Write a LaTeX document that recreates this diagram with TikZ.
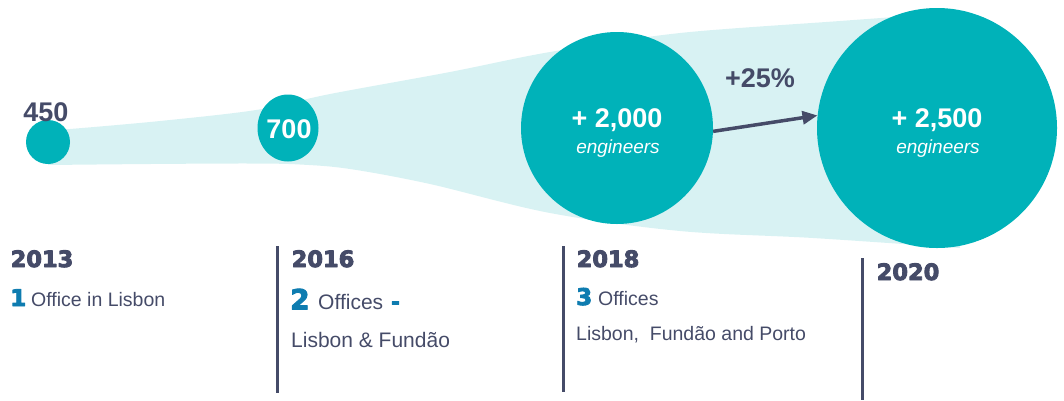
\documentclass[tikz,border=0pt]{standalone}
\usepackage{fontspec}
\setmainfont{Liberation Sans}
\newfontfamily\heavyfont{DejaVu Sans}
\usetikzlibrary{arrows.meta,shapes.geometric}
\definecolor{teal}{RGB}{0,178,185}
\definecolor{band}{RGB}{216,242,243}
\definecolor{slate}{RGB}{69,75,104}
\definecolor{accent}{RGB}{14,124,176}
\newcommand\fatten[1]{\special{pdf:literal direct 1 j 0.9 w 2 Tr}#1\special{pdf:literal direct 0 Tr}}
\begin{document}
\begin{tikzpicture}[x=1pt,y=-1pt,
  bubble/.style={circle, fill=teal, draw=none, inner sep=0pt},
  bigtxt/.style={anchor=base, inner sep=0pt, font=\bfseries\fontsize{27}{27}\selectfont},
  engtxt/.style={anchor=base, inner sep=0pt, text=white, font=\itshape\fontsize{19}{19}\selectfont},
  yeartxt/.style={anchor=base west, inner sep=0pt, text=slate, font=\heavyfont\bfseries\fontsize{22.5}{23}\selectfont},
  numtxt/.style={anchor=base west, inner sep=0pt, text=accent, font=\heavyfont\bfseries\fontsize{23}{23}\selectfont},
  bodytxt/.style={anchor=base west, inner sep=0pt, text=slate, font=\fontsize{19.5}{20}\selectfont},
  divider/.style={draw=slate, line width=3pt},
  growth/.style={draw=slate, line width=3.5pt, -{Triangle[length=15pt,width=13pt]}}
]
\useasboundingbox (0,0) rectangle (1064,400);

% funnel band
\fill[band] plot[smooth, tension=0.5] coordinates {(48,130) (70,129) (160,121) (256,110) (330,94) (450,72) (550,52) (680,33) (840,21) (950,13)}
  -- (960,248)
  -- plot[smooth, tension=0.55] coordinates {(960,248) (813,238) (680,231) (550,213) (430,184) (350,169) (300,164.5) (250,163.5) (150,164) (48,165)}
  -- cycle;

% bubbles
\node[bubble, minimum size=44pt] (c450) at (48,142) {};
\node[ellipse, fill=teal, draw=none, inner sep=0pt, minimum width=61pt, minimum height=67pt] (c700) at (288,128) {};
\node[bubble, minimum size=192pt] (c2000) at (617,128) {};
\node[bubble, minimum size=240pt] (c2500) at (937,128) {};

% bubble texts
\node[bigtxt, text=slate] (t450) at (46,121) {450};
\node[bigtxt, text=white] (t700) at (289,138) {700};
\node[bigtxt, text=white] (t2000) at (617,127) {+ 2,000};
\node[engtxt] (e2000) at (618,153) {engineers};
\node[bigtxt, text=white] (t2500) at (937,127) {+ 2,500};
\node[engtxt] (e2500) at (938,153) {engineers};

% growth arrow
\draw[growth] (c2000.-2.4) -- (c2500.174.3);
\node[bigtxt, text=slate] (pct) at (760,87) {+25\%};

% dividers
\coordinate (d1a) at (277,246); \coordinate (d1b) at (277,393);
\coordinate (d2a) at (563,246); \coordinate (d2b) at (563,392);
\coordinate (d3a) at (862,258); \coordinate (d3b) at (862,400);
\draw[divider] (d1a) -- (d1b);
\draw[divider] (d2a) -- (d2b);
\draw[divider] (d3a) -- (d3b);

% 2013
\node[yeartxt] (y2013) at (10.5,267) {\fatten{2013}};
\node[numtxt] (n1) at (10,306) {\fatten{1}};
\node[bodytxt] (o1) at (31,306) {Office in Lisbon};

% 2016
\node[yeartxt] (y2016) at (291.5,267) {\fatten{2016}};
\node[numtxt, font=\heavyfont\bfseries\fontsize{28}{28}\selectfont] (n2) at (290,309.5) {\fatten{2}};
\node[bodytxt, font=\fontsize{21}{21}\selectfont] (o2) at (318,309) {Offices};
\node[numtxt, font=\heavyfont\bfseries\fontsize{21}{21}\selectfont] (dash2) at (391,309) {\fatten{-}};
\node[bodytxt, font=\fontsize{21}{21}\selectfont] (l2) at (291,347) {Lisbon \& Fundão};

% 2018
\node[yeartxt] (y2018) at (576.5,267) {\fatten{2018}};
\node[numtxt] (n3) at (576,305) {\fatten{3}};
\node[bodytxt] (o3) at (598,305) {Offices};
\node[bodytxt] (l3) at (576,340) {Lisbon,\ \ Fundão and Porto};

% 2020
\node[yeartxt] (y2020) at (876.5,280) {\fatten{2020}};
\end{tikzpicture}
\end{document}
